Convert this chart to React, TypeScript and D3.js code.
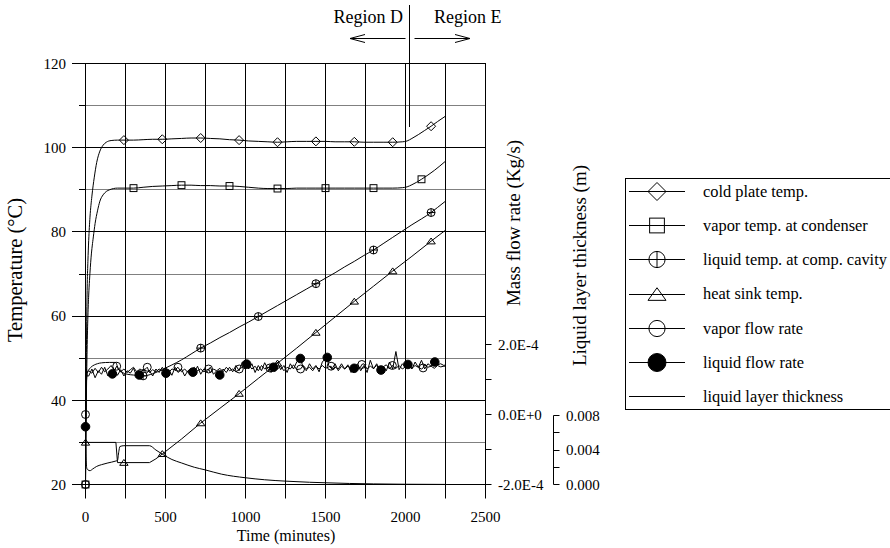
import React from 'react';
import * as d3 from 'd3';

// ---------- axes / ticks ----------
const timeTicks = [0, 500, 1000, 1500, 2000, 2500];
const timeGrid = [0, 250, 500, 750, 1000, 1250, 1500, 1750, 2000, 2250, 2500];
const tempTicks = [20, 40, 60, 80, 100, 120];
const tempGrid = [20, 30, 40, 50, 60, 70, 80, 90, 100, 110, 120];
const massTicks = [-2, 0, 2]; // units of 1e-4 kg/s
const massTickLabels = ['-2.0E-4', '0.0E+0', '2.0E-4'];
const massMinor = [-1, 1];
const thickTicks = [0, 0.004, 0.008];
const thickTickLabels = ['0.000', '0.004', '0.008'];
const thickMinor = [0.002, 0.006];
const regionBoundary = 2028; // minutes

// ---------- series (time min, value) ----------
const coldPlate: [number, number][] = [
  [0, 20], [2, 32], [5, 48], [8, 60], [11, 67.7], [15, 73], [20, 78], [28, 83.5], [40, 88.5], [55, 93],
  [70, 96.5], [90, 99.2], [110, 100.6], [130, 101.3], [160, 101.7], [200, 101.8], [240, 101.8], [300, 101.8],
  [360, 101.9], [420, 102.0], [480, 102.0], [540, 102.1], [600, 102.2], [660, 102.3], [720, 102.3], [780, 102.2],
  [840, 102.1], [900, 101.9], [960, 101.8], [1020, 101.6], [1080, 101.5], [1140, 101.4], [1200, 101.3],
  [1260, 101.4], [1320, 101.5], [1380, 101.5], [1440, 101.5], [1500, 101.5], [1560, 101.4], [1620, 101.4],
  [1680, 101.4], [1740, 101.3], [1800, 101.3], [1860, 101.3], [1920, 101.3], [1980, 101.4], [2010, 101.6],
  [2040, 102.2], [2080, 103.1], [2120, 104.1], [2160, 105.1], [2200, 106.2], [2250, 107.5],
];
const coldPlateMarks: [number, number][] = [
  [240, 101.8], [480, 102.0], [720, 102.3], [960, 101.8], [1200, 101.3], [1440, 101.5], [1680, 101.4], [1920, 101.3], [2160, 105.1],
];

const vaporTemp: [number, number][] = [
  [0, 20], [3, 32], [6, 42], [10, 52], [15, 60], [20, 65], [25, 68.5], [35, 74], [49, 78.8], [60, 82], [75, 85],
  [90, 87.3], [110, 88.8], [130, 89.6], [150, 90], [175, 90.3], [200, 90.4], [250, 90.4], [300, 90.4], [360, 90.6],
  [420, 90.8], [480, 90.9], [540, 91.0], [600, 91.1], [660, 91.1], [720, 91.0], [780, 91.0], [840, 90.9], [900, 90.9],
  [960, 90.8], [1020, 90.6], [1080, 90.4], [1140, 90.3], [1200, 90.3], [1260, 90.3], [1320, 90.4], [1380, 90.4],
  [1440, 90.4], [1500, 90.4], [1560, 90.4], [1620, 90.4], [1680, 90.4], [1740, 90.4], [1800, 90.4], [1860, 90.4],
  [1920, 90.4], [1980, 90.5], [2010, 90.7], [2040, 91.2], [2070, 91.8], [2100, 92.5], [2140, 93.5], [2180, 94.6], [2250, 96.8],
];
const vaporTempMarks: [number, number][] = [
  [0, 20], [300, 90.4], [600, 91.1], [900, 90.9], [1200, 90.3], [1500, 90.4], [1800, 90.4], [2100, 92.5],
];

const liquidTemp: [number, number][] = [
  [0, 20], [2, 35], [4, 42], [7, 45], [12, 46.5], [20, 47.2], [35, 47.9], [55, 48.4], [75, 48.7], [100, 48.9],
  [150, 49], [190, 49], [198, 48.2], [210, 47.2], [230, 46.6], [260, 46.2], [300, 46], [360, 45.8], [420, 46.3],
  [480, 47.3], [540, 48.4], [600, 49.6], [660, 51.0], [720, 52.4], [780, 53.6], [840, 54.9], [900, 56.1],
  [960, 57.4], [1020, 58.6], [1080, 59.9], [1140, 61.2], [1200, 62.5], [1260, 63.8], [1320, 65.1], [1380, 66.4],
  [1440, 67.7], [1500, 69.0], [1560, 70.3], [1620, 71.7], [1680, 73.0], [1740, 74.4], [1800, 75.7], [1860, 77.2],
  [1920, 78.7], [1980, 80.2], [2040, 81.7], [2100, 83.1], [2160, 84.6], [2200, 85.8], [2250, 87.3],
];
const liquidTempMarks: [number, number][] = [
  [0, 20], [360, 45.8], [720, 52.4], [1080, 59.9], [1440, 67.7], [1800, 75.7], [2160, 84.6],
];

const heatSink: [number, number][] = [
  [0, 30], [190, 30], [200, 25.2], [400, 25.2], [440, 26.1], [482, 27.3], [600, 30.8], [720, 34.6], [840, 38.1],
  [961, 41.6], [1080, 45.2], [1200, 48.8], [1320, 52.4], [1440, 56.1], [1560, 59.8], [1680, 63.5], [1800, 67.1],
  [1920, 70.7], [2040, 74.2], [2160, 77.8], [2250, 80.4],
];
const heatSinkMarks: [number, number][] = [
  [0, 30], [240, 25.2], [480, 27.3], [720, 34.6], [960, 41.6], [1200, 48.8], [1440, 56.1], [1680, 63.5], [1920, 70.7], [2160, 77.8],
];

// mass flow rates in units of 1e-4 kg/s
const vaporFlow: [number, number][] = [
  [0, 0], [3, 0.9], [6, 1.3], [10, 1.2],
  [20, 1.25], [40, 1.18], [60, 1.32], [80, 1.2], [100, 1.35], [120, 1.22], [140, 1.3], [160, 1.4], [180, 1.25], [200, 1.33],
  [220, 1.22], [240, 1.3], [260, 1.2], [280, 1.28], [300, 1.35], [320, 1.22], [340, 1.3], [360, 1.25], [380, 1.32], [400, 1.2],
  [420, 1.28], [440, 1.22], [460, 1.3], [480, 1.25], [500, 1.35], [520, 1.2], [540, 1.3], [560, 1.28], [580, 1.33], [600, 1.22],
  [620, 1.3], [640, 1.2], [660, 1.27], [680, 1.35], [700, 1.25], [720, 1.3], [740, 1.22], [760, 1.28], [780, 1.2], [800, 1.3],
  [820, 1.25], [840, 1.32], [860, 1.22], [880, 1.35], [900, 1.25], [920, 1.3], [940, 1.22], [960, 1.28], [980, 1.35], [1000, 1.3],
  [1020, 1.42], [1040, 1.3], [1060, 1.38], [1080, 1.25], [1100, 1.4], [1120, 1.3], [1140, 1.35], [1160, 1.28], [1180, 1.45], [1200, 1.3],
  [1220, 1.38], [1240, 1.25], [1260, 1.35], [1280, 1.3], [1300, 1.42], [1320, 1.28], [1340, 1.3], [1360, 1.4], [1380, 1.3], [1400, 1.35],
  [1420, 1.25], [1440, 1.38], [1460, 1.3], [1480, 1.4], [1500, 1.32], [1520, 1.36], [1540, 1.28], [1560, 1.35], [1580, 1.3], [1600, 1.45],
  [1620, 1.3], [1640, 1.38], [1660, 1.32], [1680, 1.4], [1700, 1.3], [1720, 1.36], [1740, 1.45], [1760, 1.3], [1780, 1.38], [1800, 1.32],
  [1820, 1.4], [1840, 1.28], [1860, 1.36], [1880, 1.42], [1900, 1.3], [1920, 1.38], [1940, 1.32], [1960, 1.4], [1980, 1.3], [2000, 1.36],
  [2020, 1.45], [2040, 1.32], [2060, 1.4], [2080, 1.35], [2100, 1.3], [2120, 1.42], [2140, 1.35], [2160, 1.38], [2180, 1.32], [2200, 1.4],
  [2220, 1.36], [2240, 1.38], [2250, 1.38],
];
const vaporFlowMarks: [number, number][] = [
  [0, 0], [195, 1.38], [386, 1.35], [578, 1.35], [769, 1.3], [961, 1.3], [1152, 1.33], [1344, 1.3], [1535, 1.38], [1727, 1.43], [1918, 1.4], [2110, 1.33],
];

const liquidFlow: [number, number][] = [
  [0, -0.35], [3, 0.8], [6, 1.2], [10, 1.1],
  [20, 1.1], [40, 1.3], [60, 1.05], [80, 1.25], [100, 1.15], [120, 1.35], [140, 1.1], [160, 1.2], [180, 1.3], [200, 1.12],
  [220, 1.28], [240, 1.1], [260, 1.25], [280, 1.18], [300, 1.32], [320, 1.1], [340, 1.15], [360, 1.3], [380, 1.18], [400, 1.25],
  [420, 1.1], [440, 1.3], [460, 1.2], [480, 1.35], [500, 1.18], [520, 1.28], [540, 1.12], [560, 1.35], [580, 1.2], [600, 1.3],
  [620, 1.1], [640, 1.25], [660, 1.3], [680, 1.2], [700, 1.38], [720, 1.15], [740, 1.3], [760, 1.22], [780, 1.35], [800, 1.15],
  [820, 1.25], [840, 1.13], [860, 1.3], [880, 1.2], [900, 1.35], [920, 1.22], [940, 1.4], [960, 1.25], [980, 1.5], [1000, 1.44],
  [1020, 1.3], [1040, 1.45], [1060, 1.2], [1080, 1.4], [1100, 1.25], [1120, 1.48], [1140, 1.3], [1160, 1.2], [1180, 1.35], [1200, 1.5],
  [1220, 1.28], [1240, 1.4], [1260, 1.2], [1280, 1.45], [1300, 1.3], [1320, 1.5], [1340, 1.6], [1360, 1.35], [1380, 1.25], [1400, 1.45],
  [1420, 1.3], [1440, 1.4], [1460, 1.22], [1480, 1.5], [1500, 1.6], [1520, 1.4], [1540, 1.3], [1560, 1.45], [1580, 1.25], [1600, 1.38],
  [1620, 1.3], [1640, 1.42], [1660, 1.2], [1680, 1.32], [1700, 1.45], [1720, 1.25], [1740, 1.4], [1760, 1.2], [1780, 1.55], [1800, 1.3],
  [1820, 1.45], [1840, 1.28], [1860, 1.38], [1880, 1.25], [1900, 1.5], [1920, 1.3], [1940, 1.8], [1960, 1.28], [1980, 1.45], [2000, 1.35],
  [2020, 1.42], [2040, 1.3], [2060, 1.5], [2080, 1.35], [2100, 1.55], [2120, 1.3], [2140, 1.45], [2160, 1.38], [2180, 1.5], [2200, 1.42],
  [2220, 1.45], [2240, 1.4], [2250, 1.42],
];
const liquidFlowMarks: [number, number][] = [
  [0, -0.35], [168, 1.16], [336, 1.13], [503, 1.18], [671, 1.21], [839, 1.13], [1007, 1.44], [1175, 1.35], [1343, 1.6],
  [1511, 1.63], [1679, 1.32], [1847, 1.27], [2015, 1.43], [2183, 1.5],
];

// liquid layer thickness (m)
const liquidLayer: [number, number][] = [
  [0, 0.0049], [2, 0.004], [5, 0.0025], [8, 0.0019], [15, 0.0017], [28, 0.0016], [45, 0.0018], [70, 0.0021],
  [100, 0.0023], [140, 0.0025], [185, 0.0027], [200, 0.0028], [208, 0.0038], [215, 0.0044], [240, 0.0045],
  [400, 0.0045], [440, 0.004], [482, 0.0035], [540, 0.0029], [600, 0.0025], [680, 0.002], [747, 0.0017],
  [850, 0.0012], [1000, 0.00078], [1120, 0.00055], [1250, 0.00039], [1400, 0.00026], [1500, 0.0002],
  [1650, 0.00012], [1800, 0.00007], [2000, 0.00003], [2250, 0.00001],
];

const legendItems = [
  { label: 'cold plate temp.', marker: 'diamond' },
  { label: 'vapor temp. at condenser', marker: 'square' },
  { label: 'liquid temp. at comp. cavity', marker: 'circleplus' },
  { label: 'heat sink temp.', marker: 'triangle' },
  { label: 'vapor flow rate', marker: 'circle' },
  { label: 'liquid flow rate', marker: 'filled' },
  { label: 'liquid layer thickness', marker: 'none' },
];

const FONT = "'Liberation Serif', 'Times New Roman', Tinos, 'DejaVu Serif', serif";

function Marker({ type, x, y, s }: { type: string; x: number; y: number; s: number }) {
  const st = { fill: 'none', stroke: '#000', strokeWidth: 1 } as any;
  if (type === 'diamond') {
    return <path d={`M${x},${y - s}L${x + s},${y}L${x},${y + s}L${x - s},${y}Z`} {...st} />;
  }
  if (type === 'square') {
    const h = s * 0.82;
    return <rect x={x - h} y={y - h} width={2 * h} height={2 * h} {...st} />;
  }
  if (type === 'circleplus') {
    const r = s * 0.9;
    return (
      <g>
        <circle cx={x} cy={y} r={r} {...st} />
        <line x1={x - r} x2={x + r} y1={y} y2={y} stroke="#000" />
        <line x1={x} x2={x} y1={y - r} y2={y + r} stroke="#000" />
      </g>
    );
  }
  if (type === 'triangle') {
    return <path d={`M${x},${y - s * 0.75}L${x + s},${y + s * 0.65}L${x - s},${y + s * 0.65}Z`} {...st} />;
  }
  if (type === 'circle') {
    return <circle cx={x} cy={y} r={s * 0.9} {...st} />;
  }
  if (type === 'filled') {
    return <circle cx={x} cy={y} r={s} fill="#000" stroke="#000" />;
  }
  return null;
}

export default function App() {
  const x = d3.scaleLinear().domain([0, 2500]).range([85.5, 485.5]);
  const yT = d3.scaleLinear().domain([20, 120]).range([484.5, 63.5]);
  const yM = d3.scaleLinear().domain([-2, 2]).range([484.5, 344.5]);
  const yL = d3.scaleLinear().domain([0, 0.008]).range([484.5, 415.5]);
  const snap = (v: number) => Math.round(v - 0.5) + 0.5;

  const smoothT = d3.line<[number, number]>().x(d => x(d[0])).y(d => yT(d[1])).curve(d3.curveMonotoneX);
  const linT = d3.line<[number, number]>().x(d => x(d[0])).y(d => yT(d[1]));
  const linM = d3.line<[number, number]>().x(d => x(d[0])).y(d => yM(d[1]));
  const smoothL = d3.line<[number, number]>().x(d => x(d[0])).y(d => yL(d[1])).curve(d3.curveMonotoneX);

  const merge = (a: [number, number][], b: [number, number][]) =>
    [...a, ...b].sort((p, q) => p[0] - q[0]);

  const curveStyle = { fill: 'none', stroke: '#000', strokeWidth: 1 } as any;
  const x0 = x(0), x1 = x(2500);
  const yTop = yT(120), yBot = yT(20);
  const xB = snap(x(regionBoundary));
  const thickAxisX = 553.5;

  const legendX = 625.5, legendTop = 178.5, legendBottom = 409.5;
  const rowY0 = 191, rowStep = 34.2;
  const tStyle = { fontFamily: FONT } as any;

  return (
    <svg width={890} height={548} style={{ position: 'absolute', left: 0, top: 0, background: '#fff', fontFamily: FONT }}>
      <rect x={0} y={0} width={890} height={548} fill="#fff" />

      {/* horizontal gridlines */}
      {tempGrid.map(t => (
        <line key={'hg' + t} x1={x0} x2={x1} y1={snap(yT(t))} y2={snap(yT(t))}
          stroke={t % 20 === 0 ? '#000' : '#808080'} strokeWidth={1} />
      ))}
      {/* vertical gridlines with ticks below */}
      {timeGrid.map(t => (
        <line key={'vg' + t} x1={snap(x(t))} x2={snap(x(t))} y1={yTop} y2={yBot + 14}
          stroke="#000" strokeWidth={1} />
      ))}

      {/* left axis ticks */}
      {tempGrid.map(t => (
        <line key={'lt' + t} x1={t % 20 === 0 ? 72 : 79} x2={x0} y1={snap(yT(t))} y2={snap(yT(t))} stroke="#000" />
      ))}
      {tempTicks.map(t => (
        <text key={'ll' + t} style={tStyle} x={66} y={yT(t)} dy="0.35em" textAnchor="end" fontSize={15}>{t}</text>
      ))}

      {/* bottom tick labels */}
      {timeTicks.map(t => (
        <text key={'bl' + t} style={tStyle} x={x(t)} y={522} textAnchor="middle" fontSize={15}>{t}</text>
      ))}

      {/* mass flow axis (right) */}
      {massTicks.map((m, i) => (
        <g key={'mt' + m}>
          <line x1={x1} x2={x1 + 6} y1={snap(yM(m))} y2={snap(yM(m))} stroke="#000" />
          <text style={tStyle} x={498} y={yM(m)} dy="0.35em" fontSize={15}>{massTickLabels[i]}</text>
        </g>
      ))}
      {massMinor.map(m => (
        <line key={'mm' + m} x1={x1} x2={x1 + 6} y1={snap(yM(m))} y2={snap(yM(m))} stroke="#000" />
      ))}

      {/* liquid layer thickness axis */}
      <line x1={thickAxisX} x2={thickAxisX} y1={snap(yL(0.008))} y2={snap(yL(0))} stroke="#000" />
      {thickTicks.map((v, i) => (
        <g key={'tt' + v}>
          <line x1={thickAxisX} x2={thickAxisX + 6} y1={snap(yL(v))} y2={snap(yL(v))} stroke="#000" />
          <text style={tStyle} x={566} y={yL(v)} dy="0.35em" fontSize={15}>{thickTickLabels[i]}</text>
        </g>
      ))}
      {thickMinor.map(v => (
        <line key={'tm' + v} x1={thickAxisX} x2={thickAxisX + 6} y1={snap(yL(v))} y2={snap(yL(v))} stroke="#000" />
      ))}

      {/* curves */}
      <path d={smoothT(coldPlate) || ''} {...curveStyle} />
      <path d={smoothT(vaporTemp) || ''} {...curveStyle} />
      <path d={smoothT(liquidTemp) || ''} {...curveStyle} />
      <path d={linT(heatSink) || ''} {...curveStyle} />
      <path d={linM(merge(vaporFlow, vaporFlowMarks.slice(1))) || ''} {...curveStyle} />
      <path d={linM(merge(liquidFlow, liquidFlowMarks.slice(1))) || ''} {...curveStyle} />
      <path d={smoothL(liquidLayer) || ''} {...curveStyle} />

      {/* markers */}
      {coldPlateMarks.map((d, i) => <Marker key={'cp' + i} type="diamond" x={x(d[0])} y={yT(d[1])} s={4.5} />)}
      {vaporTempMarks.map((d, i) => <Marker key={'vt' + i} type="square" x={x(d[0])} y={yT(d[1])} s={4.2} />)}
      {liquidTempMarks.map((d, i) => <Marker key={'lt' + i} type="circleplus" x={x(d[0])} y={yT(d[1])} s={4.4} />)}
      {heatSinkMarks.map((d, i) => <Marker key={'hs' + i} type="triangle" x={x(d[0])} y={yT(d[1])} s={4.2} />)}
      {vaporFlowMarks.map((d, i) => <Marker key={'vf' + i} type="circle" x={x(d[0])} y={yM(d[1])} s={4.4} />)}
      {liquidFlowMarks.map((d, i) => <Marker key={'lf' + i} type="filled" x={x(d[0])} y={yM(d[1])} s={4.3} />)}

      {/* plot frame */}
      <rect x={x0} y={yTop} width={x1 - x0} height={yBot - yTop} fill="none" stroke="#000" />

      {/* region annotation */}
      <line x1={xB} x2={xB} y1={5} y2={127} stroke="#000" />
      <text style={tStyle} x={403} y={23} textAnchor="end" fontSize={18}>Region D</text>
      <text style={tStyle} x={434} y={23} fontSize={18}>Region E</text>
      <line x1={xB - 4} x2={350} y1={38.5} y2={38.5} stroke="#000" />
      <path d={`M365,34.5L350,38.5L365,42.5`} fill="none" stroke="#000" />
      <line x1={xB + 5} x2={470} y1={38.5} y2={38.5} stroke="#000" />
      <path d={`M455,34.5L470,38.5L455,42.5`} fill="none" stroke="#000" />

      {/* axis titles */}
      <text style={tStyle} transform={`translate(22,270) rotate(-90)`} textAnchor="middle" fontSize={20.5}>Temperature (°C)</text>
      <text style={tStyle} transform={`translate(520,223) rotate(-90)`} textAnchor="middle" fontSize={19}>Mass flow rate (Kg/s)</text>
      <text style={tStyle} transform={`translate(586,265.5) rotate(-90)`} textAnchor="middle" fontSize={19}>Liquid layer thickness (m)</text>
      <text style={tStyle} x={286} y={541} textAnchor="middle" fontSize={16}>Time (minutes)</text>

      {/* legend */}
      <rect x={legendX} y={legendTop} width={290} height={legendBottom - legendTop} fill="#fff" stroke="#000" />
      {legendItems.map((it, i) => {
        const yy = rowY0 + i * rowStep;
        return (
          <g key={'lg' + i}>
            <line x1={629} x2={685} y1={Math.round(yy) + 0.5} y2={Math.round(yy) + 0.5} stroke="#000" />
            <Marker type={it.marker} x={657} y={Math.round(yy) + 0.5} s={9} />
            <text style={tStyle} x={703} y={yy} dy="0.35em" fontSize={16.4}>{it.label}</text>
          </g>
        );
      })}
    </svg>
  );
}
